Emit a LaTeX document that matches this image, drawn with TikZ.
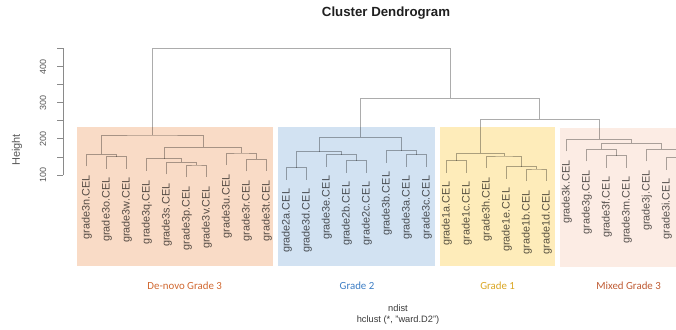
\documentclass[tikz,border=0pt]{standalone}
\usepackage{fontspec}
\setmainfont{Liberation Sans}
\newfontfamily\calibri{Carlito}
\usetikzlibrary{backgrounds}

\definecolor{denovo}{RGB}{249,219,198}
\definecolor{gradetwo}{RGB}{210,226,242}
\definecolor{gradeone}{RGB}{254,236,186}
\definecolor{mixed}{RGB}{252,236,228}
\definecolor{treegray}{RGB}{172,172,172}
\definecolor{labelgray}{RGB}{88,88,88}
\definecolor{denovotext}{RGB}{208,103,47}
\definecolor{gradetwotext}{RGB}{60,125,196}
\definecolor{gradeonetext}{RGB}{217,165,33}
\definecolor{mixedtext}{RGB}{190,90,50}

\tikzset{
  link/.style={draw=treegray, line width=0.8bp},
  leaflabel/.style={rotate=90, anchor=east, inner sep=0pt, text=labelgray,
    font=\fontsize{10.9}{12}\selectfont},
  ticklabel/.style={rotate=90, inner sep=0pt, text=labelgray,
    font=\fontsize{9}{10}\selectfont},
  grouplabel/.style={inner sep=0pt, font=\calibri\fontsize{10.9}{12}\selectfont},
  plaintext/.style={inner sep=0pt, text=black!78, font=\fontsize{9.3}{10}\selectfont},
}

\begin{document}
\begin{tikzpicture}[x=1bp,y=-1bp]
\useasboundingbox (0,0) rectangle (676,329);
\clip (0,0) rectangle (676,329);

\fill[denovo] (77,127) rectangle (273,266);
\fill[gradetwo] (278,127) rectangle (435,266);
\fill[gradeone] (440,127) rectangle (555,266);
\fill[mixed] (560,128) rectangle (680,267);

\node[font=\bfseries\fontsize{13.3}{15}\selectfont, text=black!88] (title) at (386,13) {Cluster Dendrogram};

% axis
\coordinate (axtop) at (63,48.3);
\coordinate (axbot) at (63,175);
\draw[treegray!80!black, line width=0.8bp] (axtop) -- (axbot);
\foreach \h in {100,150,...,450}
  \draw[treegray!80!black, line width=0.8bp] (63,{211.2-0.3617*\h}) -- ++(-6,0);
\foreach \h in {100,200,300,400}
  \node[ticklabel] (tick\h) at (43,{211.2-0.3617*\h}) {\h};
\node[ticklabel, font=\fontsize{11}{12}\selectfont] (height) at (17,150) {Height};

\begin{scope}[blend mode=multiply]
% leaves
\foreach \i/\lab/\p in {0/3n/154.3, 1/3o/156.5, 2/3w/156.5, 3/3q/158.8, 4/3s/162.3,
    5/3p/165, 6/3v/165, 7/3u/153, 8/3r/159.3, 9/3t/159.3,
    10/2a/167.7, 11/3d/167.7, 12/3e/154.7, 13/2b/160.7, 14/2c/160.7,
    15/3b/150.7, 16/3a/154.7, 17/3c/154.7,
    18/1a/160.7, 19/1c/160.7, 20/3h/156, 21/1e/166.7, 22/1b/169, 23/1d/169,
    24/3k/139.3, 25/3g/149.3, 26/3f/155.7, 27/3m/155.7, 28/3j/149.3, 29/3i/157.7} {
  \coordinate (l\i) at ({86.7+20*\i},{\p+12});
  \node[leaflabel] (leaf\i) at ({86.7+20*\i},{\p+21}) {grade\lab.CEL};
}
\coordinate (l30) at (686.7,169.7);

% merges
\foreach \m/\x/\y in {o1/116.7/156.5, o2/101.7/154.3, o3/196.7/165, o4/181.7/162.3,
    o5/164.2/158.8, o6/256.7/159.3, o7/241.7/153, o8/202.95/147.3, o9/152.3/135,
    b1/296.7/167.7, b2/356.7/160.7, b3/341.7/154.7, b4/319.2/151.7,
    b5/416.7/154.7, b6/401.7/150.7, b7/360.45/137.3,
    y1/456.7/160.7, y2/536.7/169, y3/521.7/166.7, y4/504.2/156, y5/480.45/153.3,
    p1/616.7/155.7, p2/601.7/149.3, p3/676.7/157.7, p4/661.7/149.3,
    p5/631.7/143.3, p6/599.2/139.3,
    u1/539.8/119.3, u2/450.1/98.3, u3/301.2/48.3}
  \coordinate (\m) at (\x,\y);

\foreach \a/\m/\b in {l1/o1/l2, l0/o2/o1, l5/o3/l6, l4/o4/o3, l3/o5/o4,
    l8/o6/l9, l7/o7/o6, o5/o8/o7, o2/o9/o8,
    l10/b1/l11, l13/b2/l14, l12/b3/b2, b1/b4/b3, l16/b5/l17, l15/b6/b5, b4/b7/b6,
    l18/y1/l19, l22/y2/l23, l21/y3/y2, l20/y4/y3, y1/y5/y4,
    l26/p1/l27, l25/p2/p1, l29/p3/l30, l28/p4/p3, p2/p5/p4, l24/p6/p5,
    y5/u1/p6, b7/u2/u1, o9/u3/u2}
  \draw[link] (\a) |- (\m) -| (\b);
\end{scope}

\node[grouplabel, text=denovotext] (denovo) at (184.7,285.5) {De-novo Grade 3};
\node[grouplabel, text=gradetwotext] (gradetwo) at (357,285.5) {Grade 2};
\node[grouplabel, text=gradeonetext] (gradeone) at (497.6,285.5) {Grade 1};
\node[grouplabel, text=mixedtext] (mixed) at (628.6,285.5) {Mixed Grade 3};

\node[plaintext] (ndist) at (398,308) {ndist};
\node[plaintext] (hclust) at (398,320) {hclust (*, "ward.D2")};
\end{tikzpicture}
\end{document}
